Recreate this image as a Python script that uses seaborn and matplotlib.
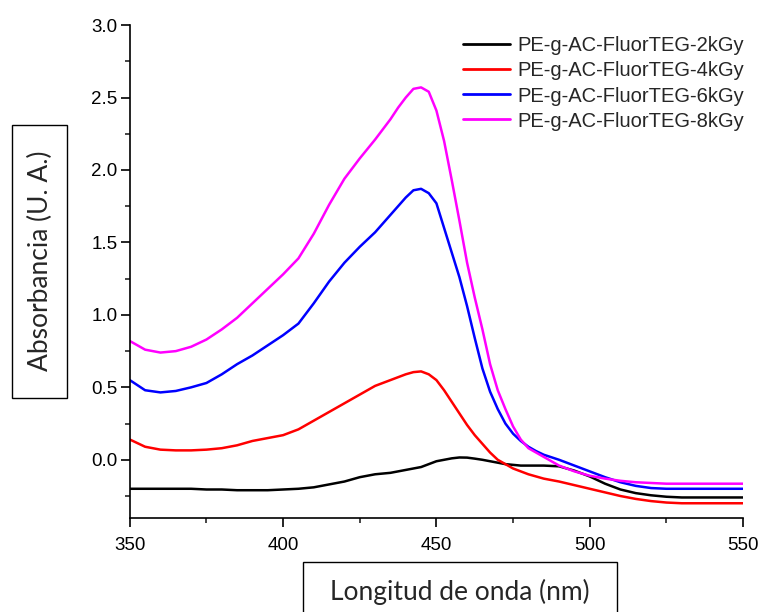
import matplotlib
matplotlib.use("Agg")
import matplotlib.pyplot as plt
from matplotlib.patches import Rectangle
from matplotlib.ticker import MultipleLocator, FormatStrFormatter
import pandas as pd
import seaborn as sns

# wavelength grid (nm), denser around the absorption band
wavelength = [350, 355, 360, 365, 370, 375, 380, 385, 390, 395,
              400, 405, 410, 415, 420, 425,
              430, 432.5, 435, 437.5, 440, 442.5, 445, 447.5, 450, 452.5,
              455, 457.5, 460, 462.5, 465, 467.5, 470, 472.5, 475, 477.5,
              480, 482.5, 485,
              490, 495, 500, 505, 510, 515, 520, 525, 530, 535, 540, 545, 550]

abs_2kgy = [-0.20, -0.20, -0.20, -0.20, -0.20, -0.205, -0.205, -0.21, -0.21, -0.21,
            -0.205, -0.20, -0.19, -0.17, -0.15, -0.12,
            -0.10, -0.095, -0.09, -0.08, -0.07, -0.06, -0.05, -0.03, -0.01, 0.0,
            0.01, 0.016, 0.015, 0.008, 0.0, -0.01, -0.02, -0.03, -0.035, -0.04,
            -0.04, -0.04, -0.04,
            -0.045, -0.075, -0.115, -0.165, -0.205, -0.23, -0.245, -0.255, -0.26, -0.26, -0.26, -0.26, -0.26]

abs_4kgy = [0.14, 0.09, 0.07, 0.065, 0.065, 0.07, 0.08, 0.10, 0.13, 0.15,
            0.17, 0.21, 0.27, 0.33, 0.39, 0.45,
            0.51, 0.53, 0.55, 0.57, 0.59, 0.605, 0.61, 0.59, 0.55, 0.48,
            0.40, 0.32, 0.24, 0.17, 0.11, 0.05, 0.0, -0.03, -0.06, -0.08,
            -0.10, -0.115, -0.13,
            -0.15, -0.175, -0.20, -0.225, -0.25, -0.27, -0.285, -0.295, -0.30, -0.30, -0.30, -0.30, -0.30]

abs_6kgy = [0.55, 0.48, 0.465, 0.475, 0.50, 0.53, 0.59, 0.66, 0.72, 0.79,
            0.86, 0.94, 1.08, 1.23, 1.36, 1.47,
            1.57, 1.63, 1.69, 1.75, 1.81, 1.86, 1.87, 1.84, 1.77, 1.60,
            1.43, 1.26, 1.06, 0.84, 0.63, 0.47, 0.35, 0.25, 0.18, 0.13,
            0.09, 0.06, 0.035,
            0.0, -0.04, -0.08, -0.12, -0.155, -0.18, -0.195, -0.20, -0.20, -0.20, -0.20, -0.20, -0.20]

abs_8kgy = [0.82, 0.76, 0.74, 0.75, 0.78, 0.83, 0.90, 0.98, 1.08, 1.18,
            1.28, 1.39, 1.56, 1.76, 1.94, 2.08,
            2.21, 2.28, 2.35, 2.43, 2.50, 2.56, 2.57, 2.54, 2.41, 2.20,
            1.93, 1.65, 1.36, 1.12, 0.90, 0.66, 0.48, 0.35, 0.23, 0.14,
            0.08, 0.05, 0.02,
            -0.04, -0.08, -0.11, -0.13, -0.145, -0.155, -0.16, -0.165, -0.165, -0.165, -0.165, -0.165, -0.165]

labels = ["PE-g-AC-FluorTEG-2kGy", "PE-g-AC-FluorTEG-4kGy",
          "PE-g-AC-FluorTEG-6kGy", "PE-g-AC-FluorTEG-8kGy"]
colors = ["#000000", "#ff0000", "#0000ff", "#ff00ff"]

frames = []
for name, vals in zip(labels, [abs_2kgy, abs_4kgy, abs_6kgy, abs_8kgy]):
    frames.append(pd.DataFrame({"wl": wavelength, "abs": vals, "sample": name}))
df = pd.concat(frames, ignore_index=True)

sns.set_style("ticks")
plt.rcParams["font.family"] = ["Liberation Sans", "DejaVu Sans"]

fig = plt.figure(figsize=(7.59, 6.12), dpi=100)
ax = fig.add_axes([0.171, 0.154, 0.808, 0.805])

sns.lineplot(data=df, x="wl", y="abs", hue="sample", palette=colors,
             linewidth=1.8, ax=ax)

ax.set_xlim(350, 550)
ax.set_ylim(-0.4, 3.0)
ax.xaxis.set_major_locator(MultipleLocator(50))
ax.xaxis.set_minor_locator(MultipleLocator(25))
ax.yaxis.set_major_locator(MultipleLocator(0.5))
ax.yaxis.set_minor_locator(MultipleLocator(0.25))
ax.yaxis.set_major_formatter(FormatStrFormatter("%.1f"))
ax.tick_params(which="major", direction="out", length=6.5, width=1.2,
               labelsize=13.5, colors="black")
ax.tick_params(which="minor", direction="out", length=3.5, width=1.2)
ax.tick_params(axis="y", pad=2.5)
ax.tick_params(axis="x", pad=7)
for side in ["top", "right"]:
    ax.spines[side].set_visible(False)
for side in ["left", "bottom"]:
    ax.spines[side].set_linewidth(1.2)
    ax.spines[side].set_color("black")
ax.set_xlabel("")
ax.set_ylabel("")

leg = ax.legend(loc="upper left", bbox_to_anchor=(0.543, 0.977), frameon=False,
                fontsize=14.5, handlelength=2.35, handletextpad=0.35,
                labelspacing=0.3, borderaxespad=0, borderpad=0)
for line in leg.get_lines():
    line.set_linewidth(2.0)

# boxed axis titles
fig.patches.append(Rectangle((12 / 759, 1 - 398 / 612), 55 / 759, 273 / 612,
                             transform=fig.transFigure, fill=False,
                             ec="black", lw=1.0))
fig.text(40 / 759, 1 - 261 / 612, "Absorbancia (U. A.)", rotation=90,
         ha="center", va="center", fontsize=19, family=["Lato", "DejaVu Sans"])

fig.patches.append(Rectangle((303 / 759, -0.05), 314 / 759, 1 - 562 / 612 + 0.05,
                             transform=fig.transFigure, fill=False,
                             ec="black", lw=1.0))
fig.text(460 / 759, 1 - 592 / 612, "Longitud de onda (nm)",
         ha="center", va="center", fontsize=19, family=["Lato", "DejaVu Sans"])

fig.savefig("out.png", dpi=100)
